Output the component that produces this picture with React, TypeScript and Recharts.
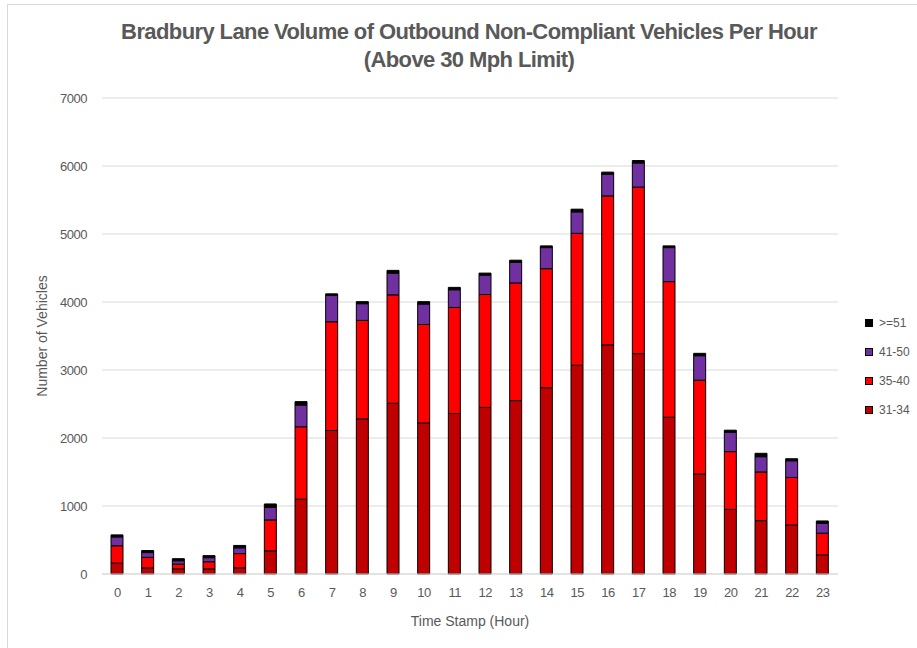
import React from 'react';
import { Bar, BarChart, CartesianGrid, XAxis, YAxis } from 'recharts';

const hours = [
  '0', '1', '2', '3', '4', '5', '6', '7', '8', '9', '10', '11',
  '12', '13', '14', '15', '16', '17', '18', '19', '20', '21', '22', '23',
];

const speed31to34 = [160, 90, 75, 75, 90, 340, 1100, 2110, 2280, 2510, 2220, 2360, 2450, 2550, 2740, 3070, 3370, 3240, 2305, 1470, 950, 785, 720, 280];
const speed35to40 = [255, 155, 70, 105, 210, 455, 1065, 1600, 1450, 1595, 1450, 1560, 1660, 1730, 1750, 1940, 2190, 2450, 1995, 1380, 850, 715, 700, 320];
const speed41to50 = [130, 70, 50, 60, 85, 185, 320, 385, 245, 320, 300, 260, 285, 305, 310, 315, 320, 355, 500, 360, 285, 225, 245, 145];
const speed51plus = [30, 30, 30, 30, 35, 50, 50, 25, 30, 40, 35, 35, 30, 30, 25, 40, 30, 35, 25, 35, 30, 50, 30, 35];

const yTicks = [0, 1000, 2000, 3000, 4000, 5000, 6000, 7000];

const series = [
  { key: 's31', name: '31-34', color: '#C00000', values: speed31to34 },
  { key: 's35', name: '35-40', color: '#FF0000', values: speed35to40 },
  { key: 's41', name: '41-50', color: '#7030A0', values: speed41to50 },
  { key: 's51', name: '>=51', color: '#000000', values: speed51plus },
];

const data = hours.map((hour, i) => {
  const row: Record<string, string | number> = { hour };
  series.forEach((s) => {
    row[s.key] = s.values[i];
  });
  return row;
});

const GRAY = '#595959';
const tickFont = "'Liberation Sans', Arial, sans-serif";

export default function App() {
  return (
    <div
      style={{
        position: 'absolute',
        left: 7,
        top: 4,
        width: 930,
        height: 670,
        border: '1px solid #d9d9d9',
        background: '#fff',
        fontFamily: "'Liberation Sans', Arial, sans-serif",
      }}
    >
      <div
        style={{
          position: 'absolute',
          left: 0,
          top: 13,
          width: 922,
          textAlign: 'center',
          color: GRAY,
          fontWeight: 700,
          fontSize: 22,
          letterSpacing: -0.6,
          lineHeight: '28px',
        }}
      >
        <div>Bradbury Lane Volume of Outbound Non-Compliant Vehicles Per Hour</div>
        <div>(Above 30 Mph Limit)</div>
      </div>

      <BarChart
        width={909}
        height={643}
        data={data}
        margin={{ top: 93, right: 79, left: -26, bottom: 17 }}
      >
        <CartesianGrid stroke="#d9d9d9" vertical={false} />
        <XAxis
          dataKey="hour"
          height={57}
          axisLine={{ stroke: '#d9d9d9' }}
          tickLine={false}
          tickMargin={8}
          tick={{ fill: GRAY, fontSize: 13, fontFamily: tickFont, letterSpacing: -0.5 }}
          interval={0}
          label={{
            value: 'Time Stamp (Hour)',
            position: 'insideBottom',
            offset: 5,
            fill: GRAY,
            fontSize: 14,
          }}
        />
        <YAxis
          width={120}
          domain={[0, 7000]}
          ticks={yTicks}
          axisLine={false}
          tickLine={false}
          tickMargin={9}
          tick={{ fill: GRAY, fontSize: 13, fontFamily: tickFont, letterSpacing: -0.5 }}
          label={{
            value: 'Number of Vehicles',
            angle: -90,
            position: 'center',
            fill: GRAY,
            fontSize: 14,
          }}
        />
        {series.map((s) => (
          <Bar
            key={s.key}
            dataKey={s.key}
            name={s.name}
            stackId="speed"
            fill={s.color}
            stroke="#000"
            strokeWidth={1}
            barSize={12}
            isAnimationActive={false}
          />
        ))}
      </BarChart>

      <div style={{ position: 'absolute', left: 857, top: 303 }}>
        {[...series].reverse().map((s) => (
          <div
            key={s.key}
            style={{ display: 'flex', alignItems: 'center', height: 29, color: GRAY, fontSize: 12 }}
          >
            <span
              style={{
                display: 'inline-block',
                width: 6,
                height: 6,
                background: s.color,
                border: '1px solid #000',
                marginRight: 6,
              }}
            />
            {s.name}
          </div>
        ))}
      </div>
    </div>
  );
}
